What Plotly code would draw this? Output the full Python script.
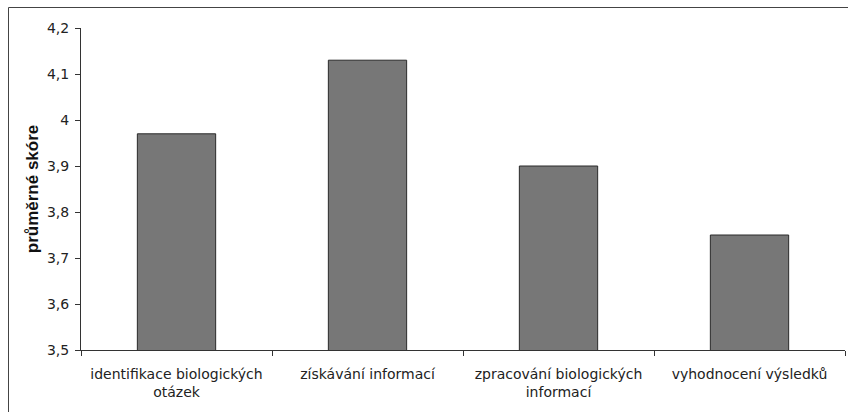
import plotly.graph_objects as go

categories = ["identifikace biologických<br>otázek", "získávání informací",
              "zpracování biologických<br>informací", "vyhodnocení výsledků"]
scores = [3.97, 4.13, 3.90, 3.75]
y_ticks = [3.5, 3.6, 3.7, 3.8, 3.9, 4.0, 4.1, 4.2]
y_title = "průměrné skóre"

L, T, R, B = 81, 28, 3, 62
W, H = 848, 412
pw, ph = W - L - R, H - T - B

fig = go.Figure()
fig.add_trace(go.Bar(
    x=categories, y=scores, width=0.41,
    marker=dict(color="#777777", line=dict(color="#2a2a2a", width=1)),
))

fig.update_layout(
    width=W, height=H,
    margin=dict(l=L, r=R, t=T, b=B, autoexpand=False),
    paper_bgcolor="white", plot_bgcolor="white",
    separators=", ",
    showlegend=False,
    font=dict(family="DejaVu Sans", size=14, color="#222222"),
    shapes=[dict(type="rect", xref="paper", yref="paper",
                 x0=(8.5 - L) / pw, x1=(W + 20 - L) / pw,
                 y0=-(B + 20) / ph, y1=1 + (T - 7.5) / ph,
                 line=dict(color="#444444", width=1), layer="below")],
)
fig.update_xaxes(
    type="category", tickson="boundaries", ticks="outside", ticklen=5,
    tickcolor="#333333", showline=True, linecolor="#333333", linewidth=1,
    showgrid=False, range=[-0.5, 3.5], tickangle=0, automargin=False,
    ticklabelstandoff=11,
)
fig.update_yaxes(
    range=[3.5, 4.2], tickvals=y_ticks, ticks="outside", ticklen=5,
    tickcolor="#333333", showline=True, linecolor="#333333", linewidth=1,
    showgrid=False, zeroline=False, automargin=False, ticklabelstandoff=3,
    title=dict(text=y_title,
               font=dict(family="Liberation Sans", size=17, color="#111111", weight="bold"),
               standoff=3),
)
fig.write_html("out.html", config={"displayModeBar": False},
               post_script="document.body.style.margin='0px';document.body.style.overflow='hidden';")
